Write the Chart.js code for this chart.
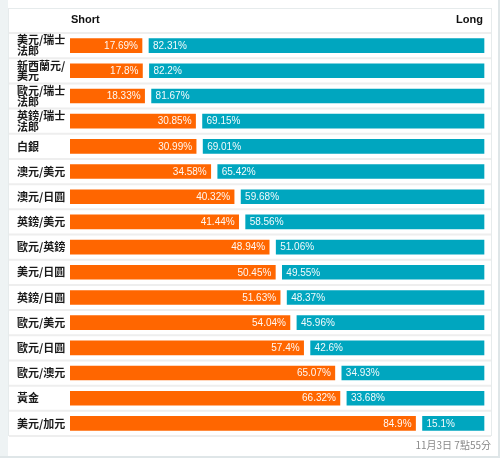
<!DOCTYPE html>
<html>
<head>
<meta charset="utf-8">
<script src="https://cdn.jsdelivr.net/npm/chart.js@4"></script>
<style>
  html,body{margin:0;padding:0;background:#fff;}
  #wrap{position:relative;width:500px;height:458px;}
  canvas{display:block;}
</style>
</head>
<body>
<div id="wrap"><canvas id="c" width="500" height="458"></canvas></div>
<script>
const categories = [
  ["美元/瑞士","法郎"],
  ["新西蘭元/","美元"],
  ["歐元/瑞士","法郎"],
  ["英鎊/瑞士","法郎"],
  "白銀",
  "澳元/美元",
  "澳元/日圓",
  "英鎊/美元",
  "歐元/英鎊",
  "美元/日圓",
  "英鎊/日圓",
  "歐元/美元",
  "歐元/日圓",
  "歐元/澳元",
  "黃金",
  "美元/加元"
];
const shortValues = [17.69, 17.8, 18.33, 30.85, 30.99, 34.58, 40.32, 41.44, 48.94, 50.45, 51.63, 54.04, 57.4, 65.07, 66.32, 84.9];
const longValues  = [82.31, 82.2, 81.67, 69.15, 69.01, 65.42, 59.68, 58.56, 51.06, 49.55, 48.37, 45.96, 42.6, 34.93, 33.68, 15.1];
const seriesNames = ["Short", "Long"];
const stampText = "11月3日 7點55分";

const GAP = 7;
const PLOT_W = 414;
const X_MAX = 100 * PLOT_W / (PLOT_W - GAP);
const numFont = '10px "Liberation Sans", Arial, sans-serif';

const framePlugin = {
  id: 'frame',
  beforeDraw(chart) {
    const ctx = chart.ctx;
    const ys = chart.scales.y;
    ctx.save();
    // outer frame
    ctx.fillStyle = '#eef3f4';
    ctx.fillRect(0, 0, 8, 458);
    ctx.strokeStyle = '#dfe6e8';
    ctx.lineWidth = 2;
    ctx.beginPath();
    ctx.moveTo(0, 457); ctx.lineTo(499, 457); ctx.lineTo(499, 0);
    ctx.stroke();
    // panel border
    ctx.strokeStyle = '#e6ebec';
    ctx.lineWidth = 1;
    ctx.strokeRect(8.5, 8.5, 483, 427);
    // row separators
    ctx.strokeStyle = '#eeeeee';
    ctx.lineWidth = 2;
    const n = categories.length;
    const pitch = (ys.getPixelForValue(n - 1) - ys.getPixelForValue(0)) / (n - 1);
    for (let i = 0; i <= n; i++) {
      const y = ys.getPixelForValue(0) - pitch / 2 + i * pitch;
      ctx.beginPath();
      ctx.moveTo(9, y); ctx.lineTo(491, y);
      ctx.stroke();
    }
    // header
    ctx.fillStyle = '#111';
    ctx.font = 'bold 11px "Liberation Sans", Arial, sans-serif';
    ctx.textBaseline = 'middle';
    ctx.textAlign = 'left';
    ctx.fillText(seriesNames[0], 71, 20);
    ctx.textAlign = 'right';
    ctx.fillText(seriesNames[1], 483, 20);
    // timestamp
    ctx.fillStyle = '#888';
    ctx.font = '10px "Noto Sans CJK TC", "Liberation Sans", sans-serif';
    ctx.fillText(stampText, 491, 445);
    ctx.restore();
  },
  beforeDatasetDraw(chart, args) {
    if (args.index === 1) { chart.ctx.save(); chart.ctx.translate(GAP, 0); }
  },
  afterDatasetDraw(chart, args) {
    if (args.index === 1) { chart.ctx.restore(); }
  },
  afterDatasetsDraw(chart) {
    const ctx = chart.ctx;
    ctx.save();
    ctx.font = numFont;
    ctx.fillStyle = 'rgba(255,255,255,0.95)';
    ctx.textBaseline = 'middle';
    chart.getDatasetMeta(0).data.forEach((bar, i) => {
      ctx.textAlign = 'right';
      ctx.fillText(shortValues[i] + '%', bar.x - 4, bar.y + 0.5);
    });
    chart.getDatasetMeta(1).data.forEach((bar, i) => {
      ctx.textAlign = 'left';
      ctx.fillText(longValues[i] + '%', bar.base + GAP + 4, bar.y + 0.5);
    });
    ctx.restore();
  }
};

new Chart(document.getElementById('c'), {
  type: 'bar',
  data: {
    labels: categories,
    datasets: [
      { label: seriesNames[0], data: shortValues, backgroundColor: '#ff6600', barThickness: 14, borderWidth: 0 },
      { label: seriesNames[1], data: longValues, backgroundColor: '#00a6bf', barThickness: 14, borderWidth: 0 }
    ]
  },
  options: {
    indexAxis: 'y',
    responsive: false,
    animation: false,
    devicePixelRatio: 1,
    layout: { padding: { left: 17, right: 16, top: 33, bottom: 22 } },
    plugins: { legend: { display: false }, tooltip: { enabled: false } },
    scales: {
      x: { stacked: true, min: 0, max: X_MAX, display: false },
      y: {
        stacked: true,
        grid: { display: false },
        border: { display: false },
        afterFit(scale) { scale.width = 53; },
        ticks: {
          crossAlign: 'far',
          color: '#1a1a1a',
          autoSkip: false,
          font: { family: '"Noto Sans CJK TC", sans-serif', size: 11, weight: 'bold', lineHeight: 0.98 }
        }
      }
    }
  },
  plugins: [framePlugin]
});
</script>
</body>
</html>
